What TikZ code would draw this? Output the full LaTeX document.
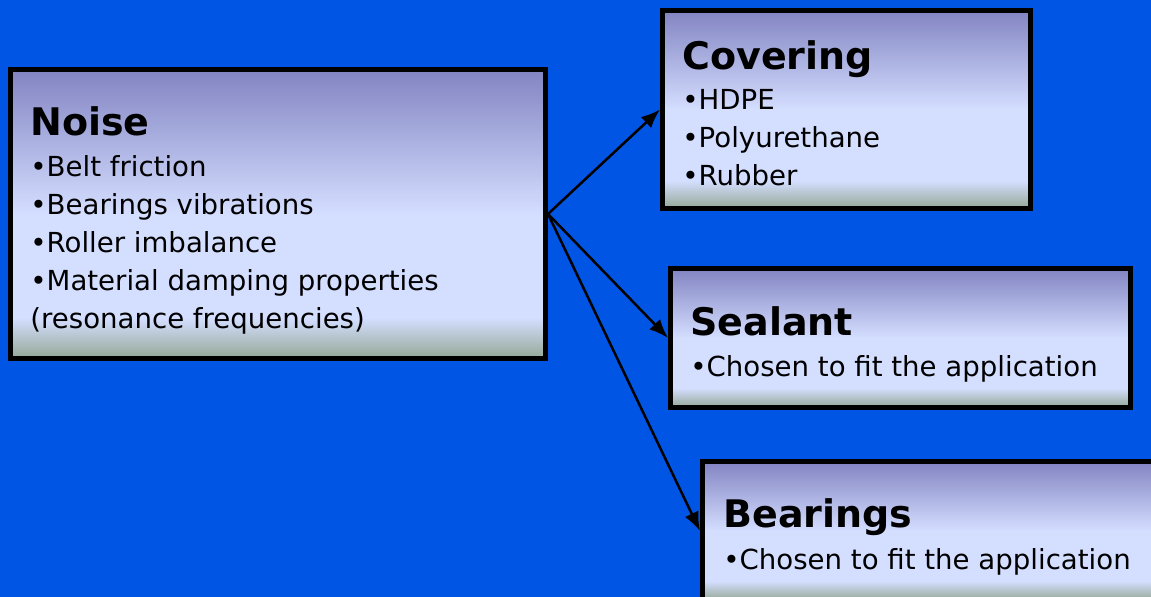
\documentclass[tikz,border=0pt]{standalone}
\usepackage{fontspec}
\setmainfont{DejaVu Sans}
\usetikzlibrary{positioning, arrows.meta}
\definecolor{slidebg}{RGB}{0,85,229}
\definecolor{boxtop}{RGB}{130,132,194}
\definecolor{boxmid}{RGB}{212,222,255}
\definecolor{boxbot}{RGB}{148,168,150}
\pgfdeclareverticalshading{boxfade}{100bp}{color(0bp)=(boxbot); color(25bp)=(boxbot); color(32bp)=(boxmid); color(50bp)=(boxmid); color(75bp)=(boxtop); color(100bp)=(boxtop)}

\begin{document}
\begin{tikzpicture}[x=0.5pt, y=-0.5pt]

	\tikzstyle{box}=[draw=black, line width=2.5pt, shading=boxfade, anchor=north west, inner sep=0];
	\tikzstyle{head}=[anchor=base west, inner sep=0, font=\fontsize{19}{23}\selectfont\bfseries];
	\tikzstyle{item}=[anchor=base west, inner sep=0, font=\fontsize{13.8}{19}\selectfont];
	\tikzstyle{link}=[line width=1.25pt, -{Latex[length=9.5pt, width=7.5pt]}];

	\clip (0,0) rectangle (1151,597);
	\fill [slidebg] (0,0) rectangle (1151,597);

	\node (noise) [box, minimum width=267.5pt, minimum height=144.5pt] at (8,67) {};
	\node (noise head) [head] at (30,136) {Noise};
	\node (noise item 1) [item] at (30,177) {•Belt friction};
	\node (noise item 2) [item] at (30,215) {•Bearings vibrations};
	\node (noise item 3) [item] at (30,253) {•Roller imbalance};
	\node (noise item 4) [item] at (30,291) {•Material damping properties};
	\node (noise item 5) [item] at (30,329) {(resonance frequencies)};

	\node (cover) [box, minimum width=184pt, minimum height=99pt] at (660,8) {};
	\node (cover head) [head] at (682,70) {Covering};
	\node (cover item 1) [item] at (682,110) {•HDPE};
	\node (cover item 2) [item] at (682,148) {•Polyurethane};
	\node (cover item 3) [item] at (682,186) {•Rubber};

	\node (seal) [box, minimum width=230pt, minimum height=69.5pt] at (668,266) {};
	\node (seal head) [head] at (690,336) {Sealant};
	\node (seal item 1) [item] at (690,377) {•Chosen to fit the application};

	\node (bear) [box, minimum width=230pt, minimum height=69.5pt] at (700,459) {};
	\node (bear head) [head] at (723,528) {Bearings};
	\node (bear item 1) [item] at (723,570) {•Chosen to fit the application};

	\draw [link] (noise.east) -- (cover.west);
	\draw [link] (noise.east) -- (seal.west);
	\draw [link] (noise.east) -- (bear.west);

\end{tikzpicture}
\end{document}
